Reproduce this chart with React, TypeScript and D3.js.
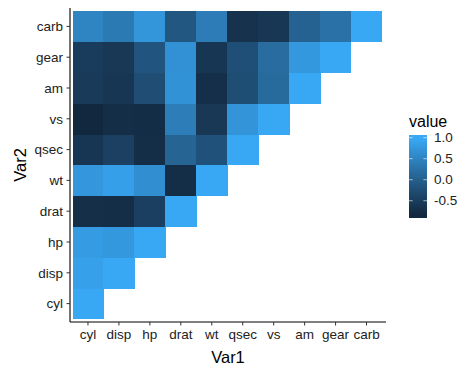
import React from "react";
import * as d3 from "d3";

const vars = ["cyl", "disp", "hp", "drat", "wt", "qsec", "vs", "am", "gear", "carb"];
// correlation values, row = Var2, listing Var1 from cyl up to Var2
const corrRows: number[][] = [
  [1],
  [0.902, 1],
  [0.832, 0.791, 1],
  [-0.7, -0.71, -0.449, 1],
  [0.782, 0.888, 0.659, -0.712, 1],
  [-0.591, -0.434, -0.708, 0.091, -0.175, 1],
  [-0.811, -0.71, -0.723, 0.44, -0.555, 0.745, 1],
  [-0.523, -0.591, -0.243, 0.713, -0.692, -0.23, 0.168, 1],
  [-0.493, -0.556, -0.126, 0.7, -0.583, -0.213, 0.206, 0.794, 1],
  [0.527, 0.395, 0.75, -0.091, 0.428, -0.656, -0.57, 0.058, 0.274, 1],
];
const legendTicks = [1.0, 0.5, 0.0, -0.5];

export default function App() {
  const cells: { v1: string; v2: string; value: number }[] = [];
  corrRows.forEach((row, j) => row.forEach((value, i) => cells.push({ v1: vars[i], v2: vars[j], value })));
  const minV = d3.min(cells, (d) => d.value)!;
  const maxV = d3.max(cells, (d) => d.value)!;

  const x = d3.scaleBand<string>().domain(vars).range([72.5, 382]).padding(0);
  const y = d3.scaleBand<string>().domain([...vars].reverse()).range([11, 319]).padding(0);
  const color = d3
    .scaleLinear<string>()
    .domain([minV, maxV])
    .range(["#12283F", "#38A8F5"])
    .interpolate(d3.interpolateLab);

  const panelL = 70, panelR = 386, panelT = 8, panelB = 322;
  const font = "'Liberation Sans', Arial, Helvetica, sans-serif";
  const labelColor = "#222";
  const fmt = d3.formatLocale({ decimal: ".", thousands: ",", grouping: [3], currency: ["", ""], minus: "-" }).format(".1f");

  const legY = d3.scaleLinear().domain([minV, maxV]).range([213.8, 137.7]);
  const barTop = 135, barBot = 217, barX = 409, barW = 18;
  const nBins = 82;
  const bins = d3.range(nBins).map((k) => {
    const t0 = barBot - ((k + 1) * (barBot - barTop)) / nBins;
    const v = legY.invert(t0 + (barBot - barTop) / nBins / 2);
    return { y: t0, h: (barBot - barTop) / nBins + 0.6, c: color(Math.max(minV, Math.min(maxV, v))) };
  });

  return (
    <svg width={474} height={375} style={{ display: "block", position: "absolute", left: 0, top: 0 }}>
      <rect width={474} height={375} fill="#fff" />
      {cells.map((d, k) => (
        <rect
          key={k}
          x={x(d.v1)!}
          y={y(d.v2)!}
          width={x.bandwidth() + 0.4}
          height={y.bandwidth() + 0.4}
          fill={color(d.value)}
          shapeRendering="crispEdges"
        />
      ))}
      {/* axes */}
      <line x1={panelL} x2={panelL} y1={panelT} y2={panelB} stroke="#000" strokeWidth={1.1} />
      <line x1={panelL} x2={panelR} y1={panelB} y2={panelB} stroke="#000" strokeWidth={1.1} />
      {vars.map((v) => {
        const cx = x(v)! + x.bandwidth() / 2;
        return (
          <g key={"x" + v}>
            <line x1={cx} x2={cx} y1={panelB} y2={panelB + 3.5} stroke="#333" />
            <text x={cx} y={339} textAnchor="middle" fontFamily={font} fontSize={13.5} fill={labelColor}>
              {v}
            </text>
          </g>
        );
      })}
      {vars.map((v) => {
        const cy = y(v)! + y.bandwidth() / 2;
        return (
          <g key={"y" + v}>
            <line x1={panelL - 3.5} x2={panelL} y1={cy} y2={cy} stroke="#333" />
            <text x={63} y={cy} dy="0.35em" textAnchor="end" fontFamily={font} fontSize={13.5} fill={labelColor}>
              {v}
            </text>
          </g>
        );
      })}
      <text x={228} y={363} textAnchor="middle" fontFamily={font} fontSize={16.5} fill="#000">
        Var1
      </text>
      <text
        transform={`translate(26,${(panelT + panelB) / 2}) rotate(-90)`}
        textAnchor="middle"
        fontFamily={font}
        fontSize={16.5}
        fill="#000"
      >
        Var2
      </text>
      {/* legend */}
      <text x={barX} y={127} fontFamily={font} fontSize={16} fill="#000">
        value
      </text>
      {bins.map((b, k) => (
        <rect key={"b" + k} x={barX} y={b.y} width={barW} height={b.h} fill={b.c} shapeRendering="crispEdges" />
      ))}
      {legendTicks.map((t) => (
        <g key={"lt" + t}>
          <line x1={barX} x2={barX + 3.6} y1={legY(t)} y2={legY(t)} stroke="#fff" strokeOpacity={0.6} />
          <line x1={barX + barW - 3.6} x2={barX + barW} y1={legY(t)} y2={legY(t)} stroke="#fff" strokeOpacity={0.6} />
          <text x={434} y={legY(t)} dy="0.35em" fontFamily={font} fontSize={13.5} fill={labelColor}>
            {fmt(t)}
          </text>
        </g>
      ))}
    </svg>
  );
}
